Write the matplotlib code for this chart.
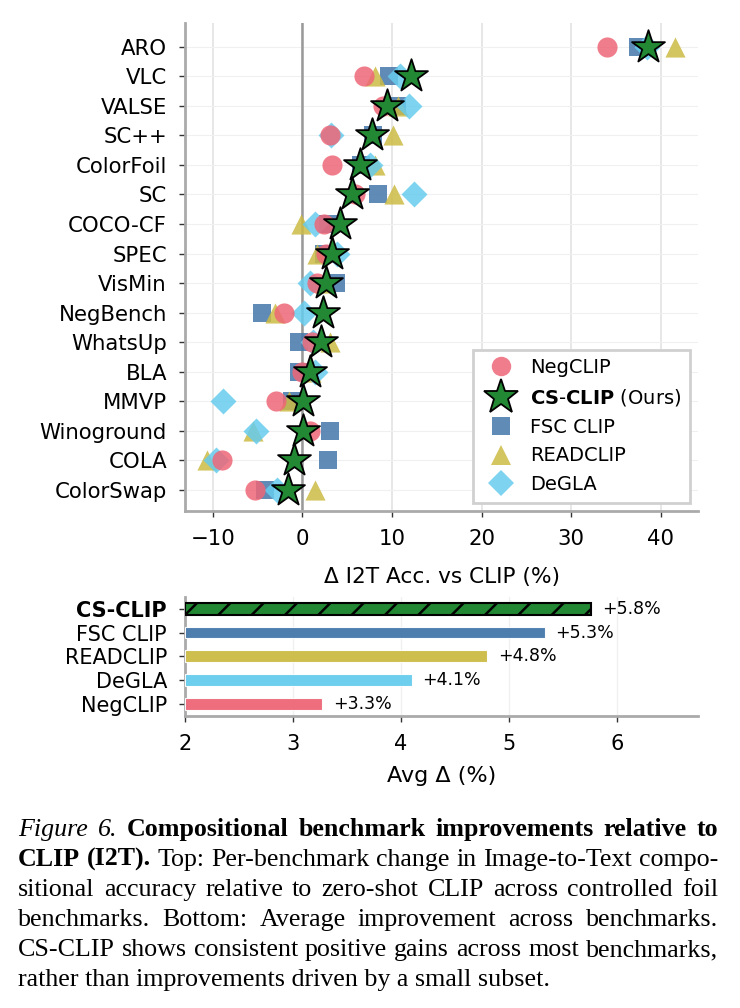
import matplotlib.pyplot as plt
import numpy as np
from matplotlib.lines import Line2D

benchmarks = ["ARO", "VLC", "VALSE", "SC++", "ColorFoil", "SC", "COCO-CF", "SPEC",
              "VisMin", "NegBench", "WhatsUp", "BLA", "MMVP", "Winoground", "COLA", "ColorSwap"]
negclip = [34.0, 6.9, 9.0, 3.1, 3.3, 5.9, 2.4, 2.6, 1.6, -2.0, 1.1, 0.0, -2.9, 0.9, -9.0, -5.25]
csclip = [38.6, 12.1, 9.45, 7.8, 6.4, 5.5, 4.2, 3.3, 2.6, 2.3, 2.1, 0.9, 0.05, 0.05, -0.9, -1.6]
fsc = [37.5, 9.7, 10.6, 7.9, 6.5, 8.4, 2.9, 2.4, 3.7, -4.5, -0.4, -0.4, -1.15, 3.05, 2.9, -4.2]
readclip = [41.6, 8.1, 10.7, 10.1, 8.1, 10.2, -0.15, 1.6, 2.5, -3.1, 3.1, 1.0, -1.5, -5.5, -10.6, 1.4]
degla = [38.5, 10.9, 11.9, 3.2, 7.6, 12.5, 1.45, 3.9, 0.9, 0.15, 1.2, 1.45, -8.85, -5.2, -9.6, -2.8]

avg_methods = ["NegCLIP", "DeGLA", "READCLIP", "FSC CLIP", "CS-CLIP"]
avg_values = [3.27, 4.10, 4.80, 5.33, 5.76]

C_NEG = "#EE6677"
C_CS = "#228833"
C_FSC = "#4477AA"
C_READ = "#CCBB44"
C_DEGLA = "#66CCEE"

plt.rcParams["font.family"] = "DejaVu Sans"
plt.rcParams["hatch.linewidth"] = 1.8

fig = plt.figure(figsize=(7.4, 10.08), dpi=100)
W, H = 740, 1008

# ---- top: per-benchmark deltas ----
ax = fig.add_axes([185 / W, 1 - 510.7 / H, 513 / W, 488 / H])
y = np.arange(len(benchmarks))[::-1]

ax.axvline(0, color="#999999", lw=1.8, zorder=1)
ax.scatter(fsc, y, marker="s", s=170, color=C_FSC, alpha=0.85, lw=0, zorder=3)
ax.scatter(readclip, y, marker="^", s=210, color=C_READ, alpha=0.85, lw=0, zorder=4)
ax.scatter(degla, y, marker="D", s=175, color=C_DEGLA, alpha=0.85, lw=0, zorder=5)
ax.scatter(negclip, y, marker="o", s=210, color=C_NEG, alpha=0.85, lw=0, zorder=6)
ax.scatter(csclip, y, marker="*", s=620, color=C_CS, edgecolor="black", lw=1.3, zorder=7)

ax.set_xlim(-13.1, 44.15)
ax.set_ylim(-0.7, 15.81)
ax.set_xticks([-10, 0, 10, 20, 30, 40])
ax.set_yticks(y)
ax.set_yticklabels(benchmarks)
ax.set_xlabel("Δ I2T Acc. vs CLIP (%)", fontsize=15.6, labelpad=13)
ax.tick_params(labelsize=15.3, length=4, width=1, color="#333333", pad=9)
ax.grid(axis="x", color="#e3e3e3", lw=1.2, zorder=0)
ax.grid(axis="y", color="#f0f0f0", lw=0.8, zorder=0)
ax.set_axisbelow(True)
for s in ["top", "right"]:
    ax.spines[s].set_visible(False)
for s in ["left", "bottom"]:
    ax.spines[s].set_color("#aaaaaa")
    ax.spines[s].set_linewidth(2)

handles = [
    Line2D([], [], ls="", marker="o", ms=14, color=C_NEG, alpha=0.85, mew=0),
    Line2D([], [], ls="", marker="*", ms=26, mfc=C_CS, mec="black", mew=1.3),
    Line2D([], [], ls="", marker="s", ms=13, color=C_FSC, alpha=0.85, mew=0),
    Line2D([], [], ls="", marker="^", ms=14, color=C_READ, alpha=0.85, mew=0),
    Line2D([], [], ls="", marker="D", ms=13, color=C_DEGLA, alpha=0.85, mew=0),
]
labels = ["NegCLIP", r"$\bf{CS}$-$\bf{CLIP}$ (Ours)", "FSC CLIP", "READCLIP", "DeGLA"]
leg = ax.legend(handles, labels, loc="lower right", fontsize=14, fancybox=False,
                borderaxespad=0.4, handletextpad=0.5, labelspacing=0.5, framealpha=1,
                borderpad=0.45)
leg.get_frame().set_edgecolor("#d0d0d0")
leg.get_frame().set_linewidth(2)

# ---- bottom: average improvement ----
ax2 = fig.add_axes([185 / W, 1 - 715.5 / H, 513 / W, 118.5 / H])
yb = np.arange(len(avg_methods))
colors = [C_NEG, C_DEGLA, C_READ, C_FSC, C_CS]
for i, (m, v, c) in enumerate(zip(avg_methods, avg_values, colors)):
    if m == "CS-CLIP":
        ax2.barh(i, v - 2, left=2, height=0.5, color=c, edgecolor="black", lw=1.5,
                 hatch="/", zorder=3)
    else:
        ax2.barh(i, v - 2, left=2, height=0.5, color=c, edgecolor="white", lw=0.8,
                 alpha=0.95, zorder=3)
    ax2.text(v + 0.1, i, f"+{v:.1f}%", va="center", ha="left", fontsize=12.5)

ax2.set_xlim(2, 6.75)
ax2.set_ylim(-0.5, 4.5)
ax2.set_xticks([2, 3, 4, 5, 6])
ax2.set_yticks(yb)
ax2.set_yticklabels(avg_methods)
ax2.get_yticklabels()[-1].set_fontweight("bold")
ax2.set_xlabel("Avg Δ (%)", fontsize=16, labelpad=9)
ax2.tick_params(labelsize=15, length=4, width=1, color="#333333", pad=9)
ax2.grid(axis="x", color="#f0f0f0", lw=1.0, zorder=0)
ax2.set_axisbelow(True)
for s in ["top", "right"]:
    ax2.spines[s].set_visible(False)
for s in ["left", "bottom"]:
    ax2.spines[s].set_color("#aaaaaa")
    ax2.spines[s].set_linewidth(2)

# ---- caption, justified like the paper ----
REG = {}
BOLD = {"fontweight": "bold"}
ITAL = {"fontstyle": "italic"}
caption = [
    ([("Figure 6.", ITAL), ("Compositional benchmark improvements relative to", BOLD)], True),
    ([("CLIP (I2T).", BOLD), ("Top: Per-benchmark change in Image-to-Text compo-", REG)], True),
    ([("sitional accuracy relative to zero-shot CLIP across controlled foil", REG)], True),
    ([("benchmarks. Bottom: Average improvement across benchmarks.", REG)], True),
    ([("CS-CLIP shows consistent positive gains across most benchmarks,", REG)], True),
    ([("rather than improvements driven by a small subset.", REG)], False),
]
cap_size = 18.7
x_left, x_right = 18, 718
renderer = fig.canvas.get_renderer()
for k, (parts, justify) in enumerate(caption):
    base = 836 + 30 * k
    yf = 1 - base / H
    if not justify:
        fig.text(x_left / W, yf, parts[0][0], fontsize=cap_size,
                 family="Liberation Serif", va="baseline", ha="left")
        continue
    words = []
    for txt, st in parts:
        for w in txt.split():
            words.append((w, st))
    texts = [fig.text(0, yf, w, fontsize=cap_size, family="Liberation Serif",
                      va="baseline", ha="left", **st) for w, st in words]
    widths = [t.get_window_extent(renderer).width for t in texts]
    gap = (x_right - x_left - sum(widths)) / (len(words) - 1)
    x = x_left
    for t, wd in zip(texts, widths):
        t.set_x(x / W)
        x += wd + gap

fig.savefig("out.png", dpi=100)
